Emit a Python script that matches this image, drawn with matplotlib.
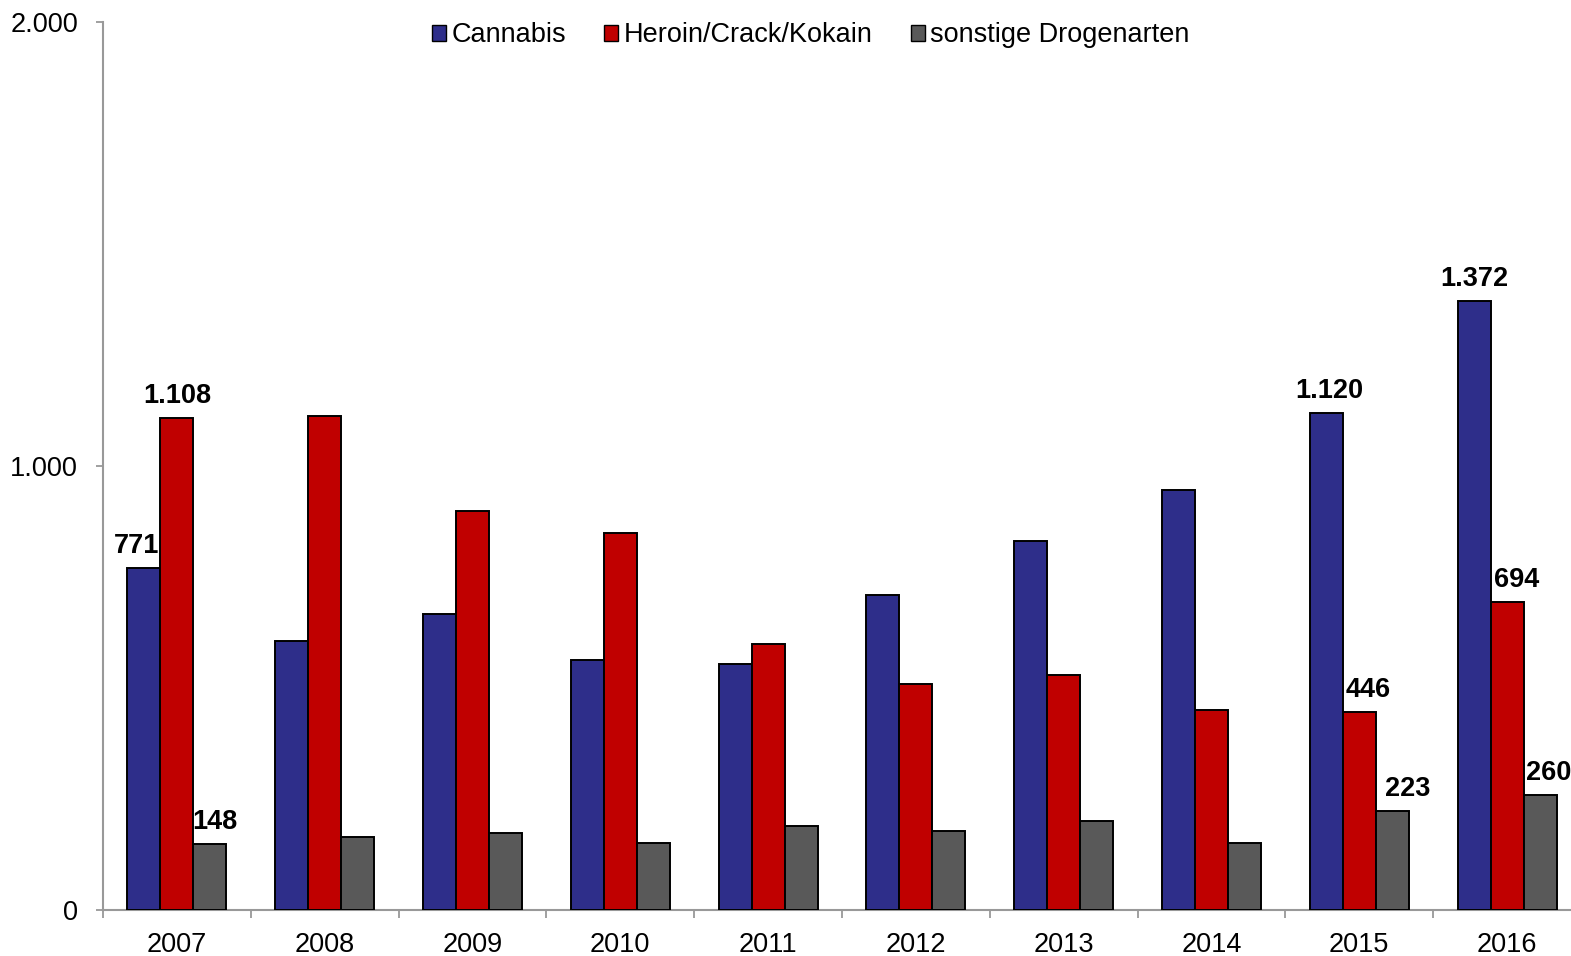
import matplotlib
matplotlib.use("Agg")
import matplotlib.pyplot as plt
import numpy as np
from matplotlib.ticker import FuncFormatter

years = ["2007", "2008", "2009", "2010", "2011", "2012", "2013", "2014", "2015", "2016"]
cannabis = [771, 606, 667, 563, 554, 709, 831, 946, 1120, 1372]
heroin = [1108, 1112, 899, 849, 599, 509, 529, 450, 446, 694]
sonstige = [148, 164, 173, 151, 189, 178, 200, 151, 223, 260]
series_names = ["Cannabis", "Heroin/Crack/Kokain", "sonstige Drogenarten"]
colors = ["#2E2E8A", "#C00000", "#595959"]

plt.rcParams['font.family'] = ['Liberation Sans', 'DejaVu Sans']

W, H = 1571, 956
fig = plt.figure(figsize=(W / 100, H / 100), dpi=100)
# axes extend slightly beyond the right edge, as in the reference
ax = fig.add_axes([103 / W, 46 / H, 1478 / W, (910 - 22) / H])

x = np.arange(len(years))
w = 0.2235
for i, (vals, name, c) in enumerate(zip([cannabis, heroin, sonstige], series_names, colors)):
    ax.bar(x + (i - 1) * w, vals, w, color=c, edgecolor="black", linewidth=1.4,
           label=name, zorder=3)

ax.set_xlim(-0.5, len(years) - 0.5)
ax.set_ylim(0, 2000)
ax.set_yticks([0, 1000, 2000])
ax.yaxis.set_major_formatter(FuncFormatter(lambda v, p: f"{int(v):,}".replace(",", ".")))
ax.set_xticks(x)
ax.set_xticklabels(years)
ax.set_xticks(np.arange(-0.5, len(years)), minor=True)
ax.tick_params(axis='x', which='major', length=0, pad=16, labelsize=19.5)
ax.tick_params(axis='x', which='minor', length=6, width=1.3, color="#999999")
ax.tick_params(axis='y', which='major', length=5, width=1.3, color="#999999", pad=13, labelsize=19.5)

for s in ["top", "right"]:
    ax.spines[s].set_visible(False)
for s in ["left", "bottom"]:
    ax.spines[s].set_color("#999999")
    ax.spines[s].set_linewidth(1.5)

def fmt(v):
    return f"{v:,}".replace(",", ".")

# annotated values: (series index, year index, x offset px)
labels = [(0, 0, -7), (1, 0, 0), (2, 0, 5),
          (0, 8, 3), (1, 8, 9), (2, 8, 15),
          (0, 9, 0), (1, 9, 10), (2, 9, 9)]
data = [cannabis, heroin, sonstige]
for si, yi, dx in labels:
    v = data[si][yi]
    ax.annotate(fmt(v), xy=(x[yi] + (si - 1) * w, v), xytext=(dx, 9),
                textcoords="offset pixels", ha="center", va="bottom",
                fontsize=19.5, fontweight="bold", annotation_clip=False)

leg = ax.legend(loc="upper center", bbox_to_anchor=(0.479, 1.027), ncol=3, frameon=False,
                fontsize=19.5, handlelength=0.52, handleheight=0.52, handletextpad=0.2,
                columnspacing=1.4)
for h in leg.legend_handles:
    h.set_linewidth(1.0)

fig.savefig("out.png", dpi=100)
